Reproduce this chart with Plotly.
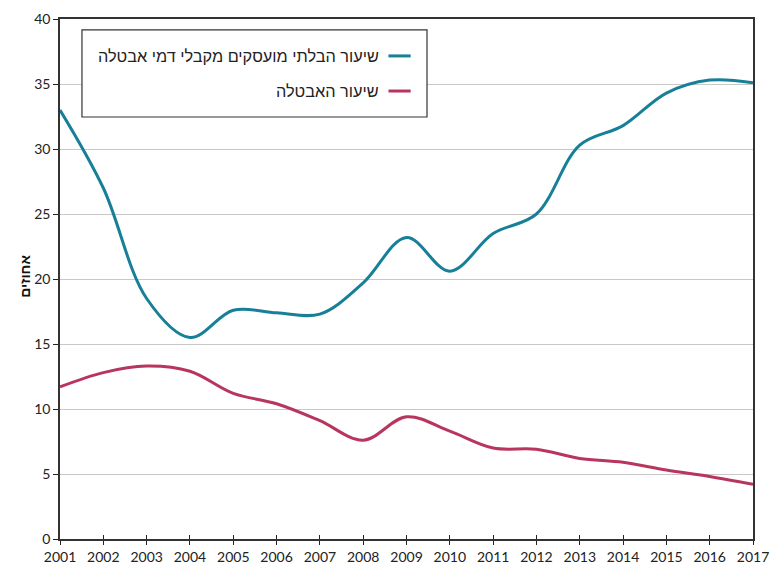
import plotly.graph_objects as go

years = list(range(2001, 2018))
nonemployed_benefit = [33.0, 27.0, 18.5, 15.5, 17.6, 17.4, 17.3, 19.7, 23.2, 20.6,
                       23.5, 25.0, 30.3, 31.8, 34.3, 35.3, 35.1]
unemployment = [11.7, 12.8, 13.3, 12.9, 11.2, 10.4, 9.1, 7.6, 9.4, 8.3,
                7.0, 6.9, 6.2, 5.9, 5.3, 4.8, 4.2]
series_names = ["שיעור הבלתי מועסקים מקבלי דמי אבטלה", "שיעור האבטלה"]
series_colors = ["#177F97", "#B8365E"]
y_ticks = [0, 5, 10, 15, 20, 25, 30, 35, 40]
y_title = "אחוזים"

font_family = "Lato, 'Liberation Sans', sans-serif"
heb_font = "'Liberation Sans', Arial, sans-serif"

fig = go.Figure()
for name, vals, col in zip(series_names, [nonemployed_benefit, unemployment], series_colors):
    fig.add_trace(go.Scatter(x=years, y=vals, name=name, mode="lines",
                             line=dict(color=col, width=3, shape="spline", smoothing=1.0),
                             showlegend=False, hoverinfo="x+y"))

fig.update_layout(
    width=778, height=565,
    margin=dict(l=60, r=25, t=19, b=26),
    paper_bgcolor="white", plot_bgcolor="white",
    font=dict(family=font_family, size=14, color="#222"),
    xaxis=dict(range=[2001, 2017], tickmode="array", tickvals=years,
               ticktext=[str(y) for y in years], ticks="outside", ticklen=4,
               tickcolor="#222", showline=True, linecolor="#333", linewidth=1.5,
               mirror=True, showgrid=False, zeroline=False, tickfont=dict(size=14),
               automargin=False),
    xaxis2=dict(range=[2001, 2017], overlaying="x", matches="x", tickmode="array",
                tickvals=years, ticks="inside", ticklen=4, tickcolor="#222",
                showticklabels=False, showline=False, showgrid=False, zeroline=False,
                anchor="y", automargin=False),
    yaxis=dict(range=[0, 40], tickvals=y_ticks, ticks="outside", ticklen=5,
               tickcolor="#222", showline=True, linecolor="#333", linewidth=1.5,
               mirror=True, showgrid=True, gridcolor="#C8C8C8", gridwidth=1,
               zeroline=False, tickfont=dict(size=14), automargin=False),
)
fig.add_trace(go.Scatter(x=[2001, 2017], y=[None, None], xaxis="x2", showlegend=False,
                         hoverinfo="skip"))

# y-axis title
fig.add_annotation(xref="paper", yref="paper", x=-0.05, y=0.505, text="<b>" + y_title + "</b>",
                   textangle=-90, showarrow=False, xanchor="center", yanchor="middle",
                   font=dict(size=14, family=heb_font, color="#111"))

# legend drawn manually (RTL layout with symbol on the right)
fig.add_shape(type="rect", xref="paper", yref="paper", x0=0.0317, x1=0.5296,
              y0=0.8115, y1=0.979, line=dict(color="#333", width=1.2),
              fillcolor="white", layer="above")
leg_y = [0.929, 0.8615]
for name, col, yy in zip(series_names, series_colors, leg_y):
    fig.add_shape(type="line", xref="paper", yref="paper", x0=0.474, x1=0.506,
                  y0=yy, y1=yy, line=dict(color=col, width=3), layer="above")
    fig.add_annotation(xref="paper", yref="paper", x=0.463, y=yy, text=name,
                       showarrow=False, xanchor="right", yanchor="middle",
                       font=dict(size=16.3, family=heb_font, color="#222"))

fig.write_html("out.html", config={"displayModeBar": False},
               post_script="document.body.style.margin='0';document.body.style.overflow='hidden';")
